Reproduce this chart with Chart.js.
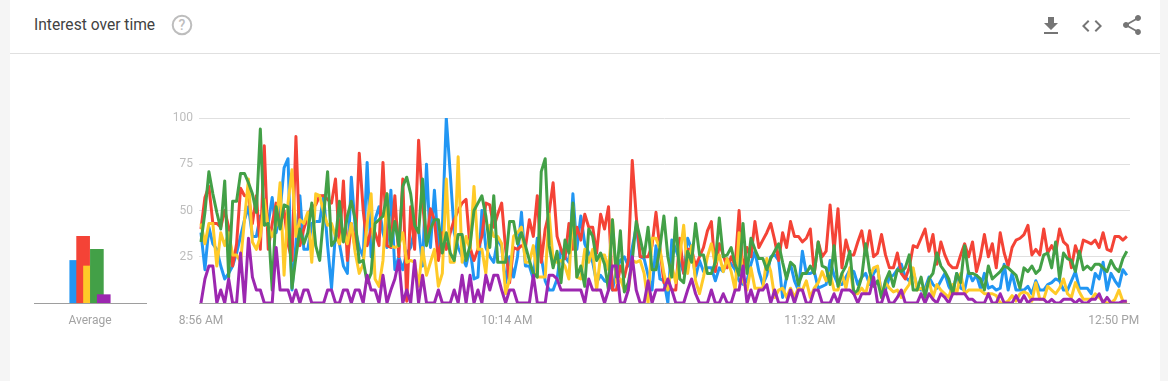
<!DOCTYPE html>
<html><head><meta charset="utf-8">
<script src="https://cdn.jsdelivr.net/npm/chart.js@4/dist/chart.umd.min.js"></script>
<style>
html,body{margin:0;padding:0;background:#f5f5f5;overflow:hidden}
#card{position:absolute;left:10px;top:0;width:1150px;height:381px;background:#fff}
#rule{position:absolute;left:10px;top:53px;width:1150px;height:1px;background:#e0e0e0}
#title{position:absolute;left:34px;top:15px;font:15.6px/20px Roboto,sans-serif;color:#424242;white-space:nowrap}
svg.ic{position:absolute;fill:#757575}
canvas{position:absolute}
</style></head><body>
<div id="card"></div><div id="rule"></div>
<div id="title">Interest over time</div>
<svg class="ic" style="left:171px;top:14px" width="22" height="22" viewBox="0 0 22 22"><circle cx="11" cy="11" r="9.3" fill="none" stroke="#bdbdbd" stroke-width="2"/><text x="11" y="16" text-anchor="middle" font-family="Roboto" font-size="14" font-weight="500" fill="#bdbdbd">?</text></svg>
<svg class="ic" style="left:1039px;top:14px" width="24" height="24" viewBox="0 0 24 24"><path d="M19 9h-4V3H9v6H5l7 7 7-7zM5 18v2h14v-2H5z"/></svg>
<svg class="ic" style="left:1080px;top:14px" width="24" height="24" viewBox="0 0 24 24"><path d="M9.4 16.6L4.8 12l4.6-4.6L8 6l-6 6 6 6 1.4-1.4zm5.2 0l4.6-4.6-4.6-4.6L16 6l6 6-6 6-1.4-1.4z"/></svg>
<svg class="ic" style="left:1120px;top:13px" width="24" height="24" viewBox="0 0 24 24"><path d="M18 16.08c-.76 0-1.44.3-1.96.77L8.91 12.7c.05-.23.09-.46.09-.7s-.04-.47-.09-.7l7.05-4.11c.54.5 1.25.81 2.04.81 1.66 0 3-1.34 3-3s-1.34-3-3-3-3 1.34-3 3c0 .24.04.47.09.7L8.04 9.81C7.5 9.31 6.79 9 6 9c-1.66 0-3 1.34-3 3s1.34 3 3 3c.79 0 1.5-.31 2.04-.81l7.12 4.16c-.05.21-.08.43-.08.65 0 1.61 1.31 2.92 2.92 2.92 1.61 0 2.92-1.31 2.92-2.92s-1.31-2.92-2.92-2.92z"/></svg>
<canvas id="main" width="1168" height="381" style="left:0;top:0"></canvas>
<canvas id="avg" width="170" height="381" style="left:0;top:0"></canvas>
<script>
const xTickLabels = ['8:56 AM','10:14 AM','11:32 AM','12:50 PM'];
const yTicks = [0,25,50,75,100];
const averageLabel = 'Average';
const averages = [23,36,20,29,4.5];
const blue = [
38,18,41,32,29,20,13,16,20,27,
36,45,52,36,36,47,43,43,57,38,
50,73,78,7,32,58,29,29,43,44,
44,58,31,8,38,32,20,16,68,40,
30,25,76,25,45,52,38,30,61,18,
25,18,27,30,40,40,20,75,30,61,
30,40,100,70,38,30,25,20,30,13,
14,50,30,25,22,35,30,11,25,14,
25,49,20,20,13,35,25,12,7,7,
13,29,25,22,59,29,47,32,27,22,
11,15,12,11,7,18,23,25,20,30,
41,25,24,15,7,31,13,12,0,34,
29,23,16,35,29,14,23,17,19,19,
12,19,17,24,21,18,12,10,12,21,
28,17,10,15,25,26,23,3,14,21,
12,7,28,16,16,17,8,9,10,23,
15,10,10,14,18,17,10,14,16,10,
16,19,5,7,14,15,18,21,14,12,
17,9,7,8,14,10,8,12,16,9,
5,16,8,7,17,12,15,8,16,8,
9,7,8,21,7,16,7,7,7,9,
5,12,7,7,10,11,13,12,7,7,
12,17,8,8,8,5,16,13,22,7,
16,12,9,18,15];
const red = [
40,57,63,43,43,41,50,41,20,32,
62,58,58,43,58,29,85,29,43,54,
43,50,32,23,90,31,40,47,52,53,
58,58,56,54,67,32,66,23,43,29,
81,50,31,40,38,31,76,31,30,58,
25,67,1,52,29,88,54,32,51,45,
23,38,29,38,45,50,54,56,30,23,
29,36,54,53,41,48,54,29,11,30,
29,31,30,45,36,58,22,40,49,65,
36,29,24,43,29,41,34,48,41,41,
27,48,40,52,7,7,20,14,23,77,
47,25,25,25,31,49,29,11,10,7,
7,35,16,29,29,20,25,30,39,44,
17,32,26,19,25,20,50,16,30,25,
44,30,34,38,43,34,23,38,30,44,
36,36,33,35,40,16,33,25,28,53,
28,51,19,34,26,26,33,39,26,39,
25,27,37,26,19,19,27,16,13,19,
31,30,35,40,28,37,21,33,26,21,
19,19,26,32,25,33,17,25,37,25,
32,19,38,27,20,30,34,35,37,42,
26,29,26,40,27,31,27,40,33,31,
19,31,25,34,33,32,34,30,38,29,
28,36,36,34,36];
const yellow = [
43,32,43,43,20,38,31,38,26,26,
22,45,67,33,29,36,56,41,36,42,
65,15,54,72,36,45,43,49,22,59,
58,49,42,43,36,32,40,32,43,27,
16,21,43,59,13,9,23,59,31,30,
31,38,22,23,22,9,30,15,22,29,
9,16,67,22,22,79,22,36,29,63,
29,29,16,42,36,36,32,5,13,36,
38,41,22,22,31,14,14,14,48,23,
22,23,20,13,52,14,13,29,22,29,
7,26,26,18,45,11,13,7,7,23,
22,23,16,0,35,35,29,16,7,20,
11,25,42,16,31,12,5,14,25,32,
21,26,17,24,17,7,38,12,7,19,
8,8,8,24,17,3,7,8,3,8,
3,8,7,12,3,8,11,17,12,16,
7,7,16,8,19,5,5,8,5,14,
19,20,3,11,8,6,7,3,7,10,
19,7,8,6,12,3,10,7,5,3,
10,5,16,5,7,7,7,7,5,5,
5,4,0,0,1,4,1,5,6,5,
1,11,2,2,9,7,5,8,13,5,
3,11,6,2,2,2,5,3,1,0,
0,2,7,1,0];
const green = [
33,49,71,59,49,40,66,14,55,55,
70,70,65,59,49,94,42,43,7,52,
40,53,52,8,25,40,32,38,54,31,
23,47,71,31,34,55,33,47,55,45,
22,23,11,16,43,45,47,59,31,44,
31,63,68,59,42,38,67,31,40,45,
45,27,38,27,23,37,37,23,31,50,
54,58,47,30,58,22,22,22,44,44,
32,38,31,23,16,14,71,78,31,19,
28,11,34,27,54,14,20,9,40,36,
23,27,21,7,45,14,39,6,11,23,
44,35,25,41,18,18,30,47,25,14,
46,13,11,28,22,43,26,26,16,16,
22,46,25,26,30,21,15,43,16,35,
29,24,24,18,24,28,32,22,13,22,
20,10,16,16,20,16,33,20,19,10,
31,9,16,20,28,5,7,14,32,17,
9,12,3,12,17,9,18,17,19,26,
7,7,14,3,13,16,27,20,17,13,
5,16,11,31,16,16,15,13,7,20,
13,15,17,20,19,17,15,8,19,17,
20,16,18,26,27,19,33,13,27,24,
23,17,28,18,20,18,21,21,19,17,
23,19,17,24,28];
const purple = [
0,13,20,20,0,7,0,13,0,0,
27,0,35,14,7,7,0,0,0,30,
7,7,7,0,7,0,7,7,0,0,
0,0,7,7,0,0,7,7,0,7,
7,0,15,7,7,0,15,0,7,13,
23,0,7,0,23,0,15,0,0,0,
7,0,0,0,7,0,15,0,15,0,
7,0,15,7,15,15,7,0,7,7,
0,0,0,0,15,0,0,0,15,15,
13,7,7,7,7,7,7,0,13,7,
7,7,0,7,20,20,0,0,7,25,
7,0,0,12,0,7,7,7,13,7,
0,0,0,7,13,5,0,0,0,7,
0,0,5,0,0,7,7,20,0,7,
0,7,7,10,0,7,0,0,0,7,
0,7,7,0,0,7,7,0,0,0,
5,0,7,7,7,5,0,5,5,5,
14,0,0,7,0,0,3,7,0,0,
0,0,5,0,5,2,0,5,3,0,
5,5,5,5,2,2,0,0,0,5,
0,0,5,0,0,0,4,0,4,0,
2,2,2,2,0,2,0,0,2,2,
2,0,2,0,0,2,2,5,0,3,
0,0,0,1,1];
const colors = ['#2196f3','#f44336','#ffca28','#43a047','#9c27b0'];
const series = [blue,red,yellow,green,purple];

const FONT = 'Roboto';
new Chart(document.getElementById('main'),{
  type:'line',
  data:{datasets:series.map((s,k)=>({
    data:s.map((v,i)=>({x:i,y:v})),
    borderColor:colors[k],borderWidth:3,pointRadius:0,tension:0,
    borderJoinStyle:'round',fill:false,order:5-k}))},
  options:{
    responsive:false,animation:false,events:[],
    layout:{padding:{left:0,right:38,top:118,bottom:0}},
    plugins:{legend:{display:false},tooltip:{enabled:false}},
    scales:{
      x:{type:'linear',min:-0.5,max:234.8,
        afterBuildTicks(a){a.ticks=[0,77.3,153.9,230.7].map(v=>({value:v}));},
        afterFit(a){a.height=78;},
        grid:{display:false},border:{display:false},
        ticks:{autoSkip:false,maxRotation:0,padding:3,color:'#a3a3a3',
          font:{family:FONT,size:12},
          callback:(v,i)=>xTickLabels[i]}},
      y:{min:0,max:100,
        afterBuildTicks(a){a.ticks=yTicks.map(v=>({value:v}));},
        afterFit(a){a.width=199;},
        border:{display:false},
        grid:{drawTicks:false,lineWidth:1,color:c=>c.tick&&c.tick.value===0?'#9e9e9e':'#e0e0e0'},
        ticks:{padding:6,color:'#bdbdbd',font:{family:FONT,size:12},
          callback:v=>v===0?'':String(v)}}
    }
  }
});
new Chart(document.getElementById('avg'),{
  type:'bar',
  data:{datasets:[{data:averages.map((v,i)=>({x:i,y:v})),backgroundColor:colors,
    barThickness:13,borderWidth:0}]},
  options:{
    responsive:false,animation:false,events:[],
    layout:{padding:{left:0,right:24,top:118,bottom:0}},
    plugins:{legend:{display:false},tooltip:{enabled:false}},
    scales:{
      x:{type:'linear',min:-2.07,max:6.07,
        afterBuildTicks(a){a.ticks=[{value:2}];},
        afterFit(a){a.height=78;},
        grid:{display:false},border:{display:true,color:'#9e9e9e',width:1},
        ticks:{autoSkip:false,maxRotation:0,padding:3,color:'#a3a3a3',font:{family:FONT,size:12},
          callback:()=>averageLabel}},
      y:{min:0,max:100,display:true,
        afterFit(a){a.width=34;},
        grid:{display:false},border:{display:false},
        ticks:{display:false}}
    }
  }
});
</script>
</body></html>
